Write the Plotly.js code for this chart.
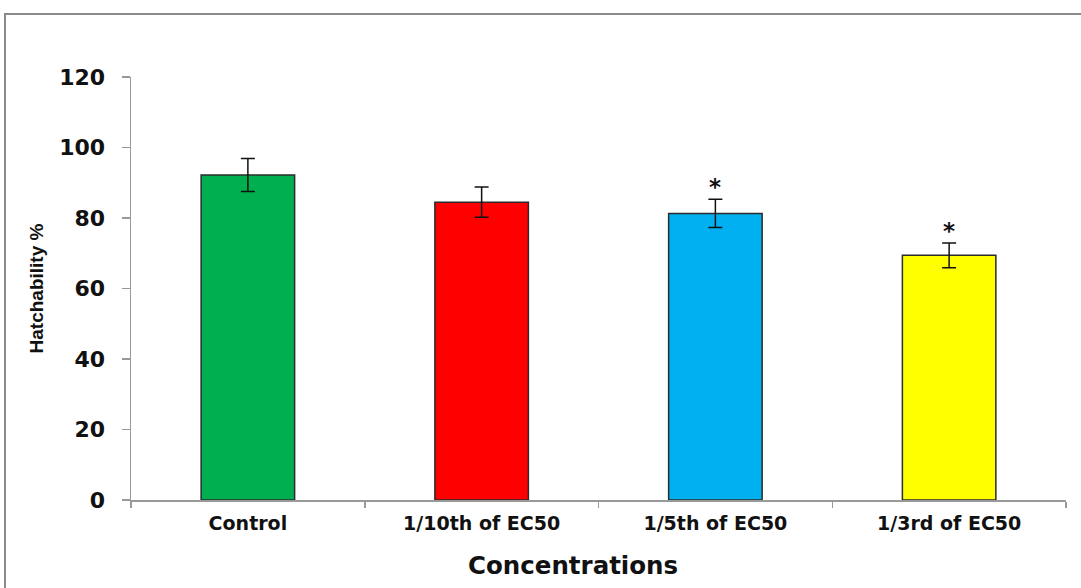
<!DOCTYPE html>
<html>
<head>
<meta charset="utf-8">
<script src="https://cdn.plot.ly/plotly-3.0.1.min.js"></script>
<style>
  html, body { margin: 0; padding: 0; background: #fff; }
  #wrap { position: relative; width: 1081px; height: 588px; overflow: hidden; }
  #frame { position: absolute; left: 4px; top: 13px; width: 1100px; height: 600px;
           border-top: 2px solid #8a8a8a; border-left: 2px solid #8a8a8a; pointer-events: none; }
  #chart { position: absolute; left: 0; top: 0; width: 1081px; height: 588px; }
</style>
</head>
<body>
<div id="wrap">
  <div id="chart"></div>
  <div id="frame"></div>
</div>
<script>
// Hatchability by concentration (mean ± error)
const categories = ['Control', '1/10th of EC50', '1/5th of EC50', '1/3rd of EC50'];
const hatchability = [92.2, 84.5, 81.3, 69.4];
const errors = [4.7, 4.3, 4.0, 3.5];
const significant = [false, false, true, true];
const barColors = ['#00B050', '#FF0000', '#00B0F0', '#FFFF00'];
const yTicks = [0, 20, 40, 60, 80, 100, 120];
const xTitle = 'Concentrations';
const yTitle = 'Hatchability %';

const WIDE = 'DejaVu Sans, Verdana, sans-serif';
const NARROW = 'Liberation Sans, Arial, sans-serif';

const trace = {
  type: 'bar',
  x: categories,
  y: hatchability,
  width: 0.4,
  marker: { color: barColors, line: { color: '#2b2b2b', width: 1.5 } },
  error_y: { type: 'data', array: errors, visible: true, color: '#111', thickness: 1.5, width: 7 },
  hoverinfo: 'x+y'
};

// asterisks above the error bars of significant groups
const annotations = categories.map((c, i) => significant[i] ? {
  x: c, y: hatchability[i] + errors[i], xref: 'x', yref: 'y',
  text: '<b>*</b>', showarrow: false, yanchor: 'bottom', yshift: -3,
  font: { family: WIDE, size: 23, color: '#111' }
} : null).filter(Boolean);

// x-axis title, set a little left of the plot centre
annotations.push({
  xref: 'paper', yref: 'paper', x: 0.4727, y: -0.155,
  xanchor: 'center', yanchor: 'middle', showarrow: false,
  text: '<b>' + xTitle + '</b>',
  font: { family: WIDE, size: 24.5, color: '#111' }
});

const layout = {
  width: 1081, height: 588,
  margin: { l: 131, r: 15, t: 77, b: 88 },
  paper_bgcolor: 'rgba(0,0,0,0)',
  plot_bgcolor: '#fff',
  showlegend: false,
  xaxis: {
    type: 'category',
    showline: true, linecolor: '#999', linewidth: 1.5,
    ticks: 'outside', tickson: 'boundaries', ticklen: 6, tickcolor: '#999', tickwidth: 1.5,
    tickfont: { family: WIDE, size: 19, color: '#111', weight: 'bold' },
    ticklabelstandoff: 6,
    showgrid: false, zeroline: false
  },
  yaxis: {
    range: [0, 120], tickvals: yTicks,
    showline: true, linecolor: '#999', linewidth: 1.5,
    ticks: 'outside', ticklen: 8, tickcolor: '#999', tickwidth: 1.5,
    tickfont: { family: WIDE, size: 22, color: '#111', weight: 'bold' },
    ticklabelstandoff: 12,
    showgrid: false, zeroline: false,
    title: { text: '<b>' + yTitle + '</b>', font: { family: NARROW, size: 19, color: '#111' }, standoff: 10 }
  },
  annotations: annotations
};

Plotly.newPlot('chart', [trace], layout, { displayModeBar: false, staticPlot: true });
</script>
</body>
</html>
